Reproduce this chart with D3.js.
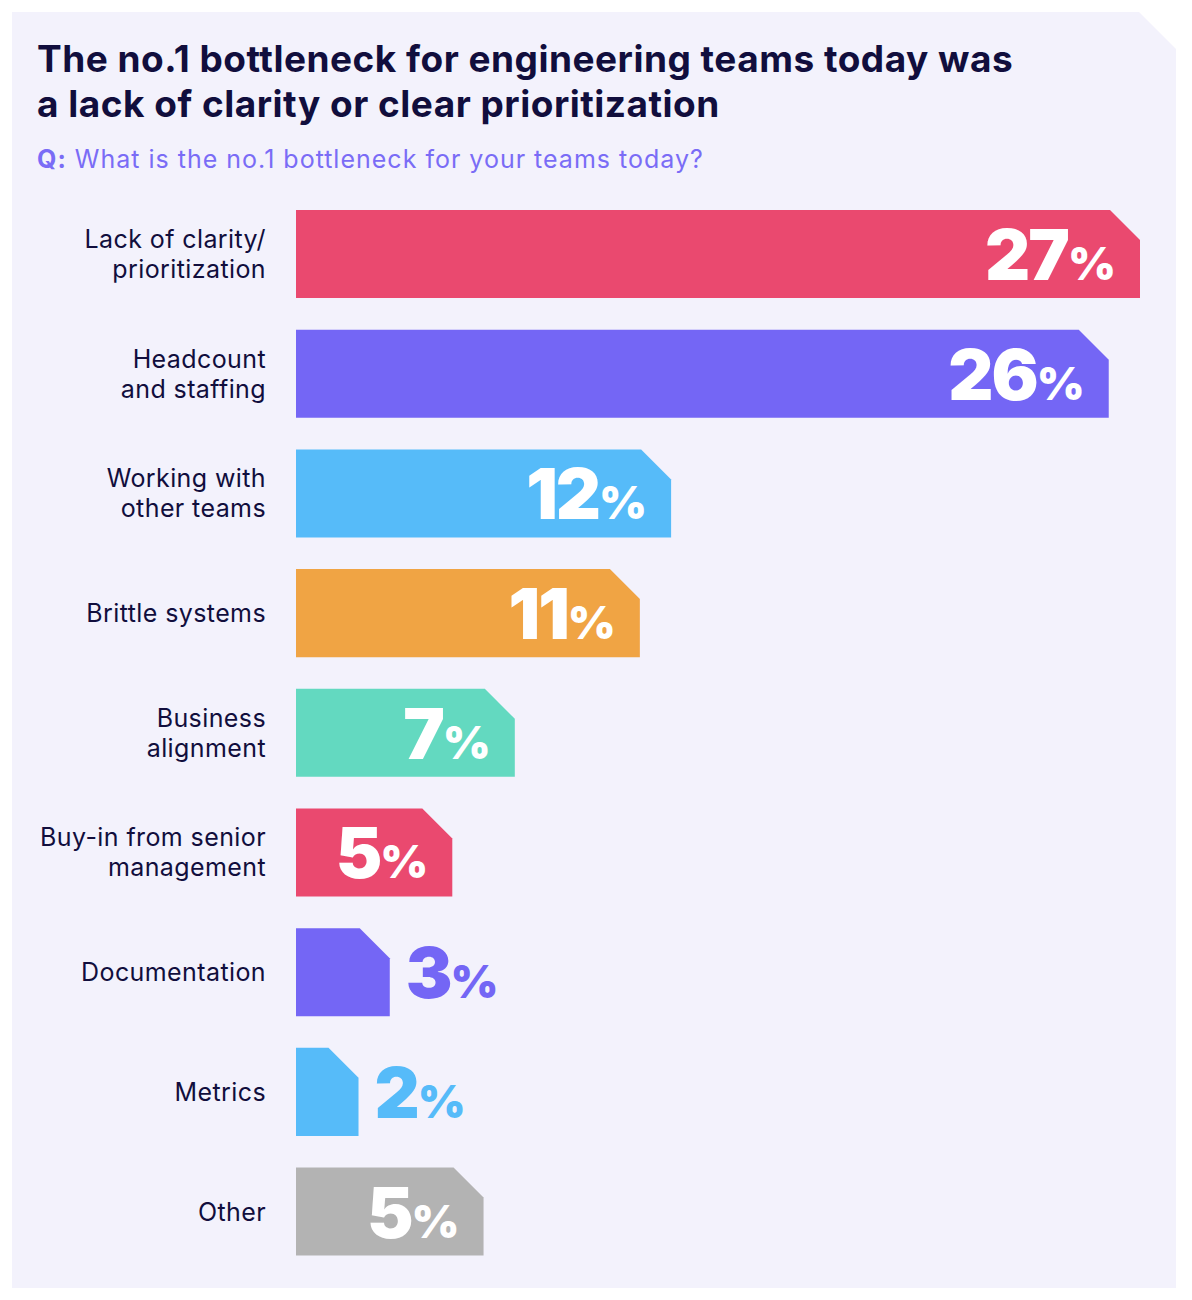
<!DOCTYPE html>
<html>
<head>
<meta charset="utf-8">
<script src="https://cdn.jsdelivr.net/npm/d3@7"></script>
<style>
  body { margin: 0; background: #ffffff; }
  svg { display: block; }
</style>
</head>
<body>
<script>
// chart data
var categories = [
  ["Lack of clarity/", "prioritization"],
  ["Headcount", "and staffing"],
  ["Working with", "other teams"],
  ["Brittle systems"],
  ["Business", "alignment"],
  ["Buy-in from senior", "management"],
  ["Documentation"],
  ["Metrics"],
  ["Other"]
]
// bar lengths as drawn in the picture (the "Other" bar is drawn longer than its 5% label)
var barValues = [27, 26, 12, 11, 7, 5, 3, 2, 6]
var valueLabels = ["27", "26", "12", "11", "7", "5", "3", "2", "5"]
var barColors = ["#ea496f", "#7466f5", "#56bbf9", "#f0a444", "#63d9c0", "#ea496f", "#7466f5", "#56bbf9", "#b3b3b3"]

var width = 1192, height = 1300

var svg = d3.select("body").append("svg")
    .attr("width", width)
    .attr("height", height)

// background panel with clipped top-right corner
svg.append("path")
    .attr("d", "M12,12 L1139,12 L1176,49 L1176,1288 L12,1288 Z")
    .style("fill", "#f3f2fc")

// title
var title = svg.append("text")
    .attr("x", 37)
    .style("font-family", "Inter, 'Noto Sans', sans-serif")
    .style("font-weight", 700)
    .style("font-size", "37px")
    .style("letter-spacing", "0.5px")
    .style("fill", "#110e3d")
title.append("tspan").attr("x", 37).attr("y", 72).text("The no.1 bottleneck for engineering teams today was")
title.append("tspan").attr("x", 37).attr("y", 117).text("a lack of clarity or clear prioritization")

var sub = svg.append("text")
    .attr("x", 37)
    .attr("y", 168)
    .style("font-family", "Inter, 'Noto Sans', sans-serif")
    .style("font-size", "25px")
    .style("letter-spacing", "1px")
    .style("fill", "#7a6cf6")
sub.append("tspan").style("font-weight", 700).text("Q:")
sub.append("tspan").text(" What is the no.1 bottleneck for your teams today?")

// scales
var x = d3.scaleLinear()
    .domain([0, 27])
    .range([296, 1140])

var y = d3.scaleBand()
    .domain(d3.range(categories.length))
    .range([210, 1255.6])
    .paddingInner(0.264)
    .paddingOuter(0)

var cut = 30

var rows = svg.selectAll("g.row")
    .data(barValues)
    .enter().append("g")
    .attr("class", "row")

// bars with a cut top-right corner
rows.append("path")
    .attr("d", function(d, i) {
        var x0 = x(0), x1 = x(d), y0 = y(i), y1 = y(i) + y.bandwidth()
        var c = Math.min(cut, x1 - x0)
        return "M" + x0 + "," + y0 + " L" + (x1 - c) + "," + y0 + " L" + x1 + "," + (y0 + c) +
            " L" + x1 + "," + y1 + " L" + x0 + "," + y1 + " Z"
    })
    .style("fill", function(d, i) { return barColors[i] })

// category labels
rows.append("text")
    .attr("text-anchor", "end")
    .style("font-family", "Inter, 'Noto Sans', sans-serif")
    .style("font-size", "25px")
    .style("letter-spacing", "0.4px")
    .style("fill", "#110e3d")
    .each(function(d, i) {
        var lines = categories[i]
        var mid = y(i) + y.bandwidth() / 2
        var first = mid + 9 - (lines.length - 1) * 15
        d3.select(this).selectAll("tspan")
            .data(lines)
            .enter().append("tspan")
            .attr("x", 266)
            .attr("y", function(l, j) { return first + j * 30 })
            .text(function(l) { return l })
    })

// value labels: inside (white) when the bar is wide, outside in bar colour otherwise
rows.append("text")
    .attr("text-anchor", function(d) { return d >= 5 ? "end" : "start" })
    .attr("x", function(d) { return d >= 5 ? x(d) - 24 : x(d) + 16 })
    .attr("y", function(d, i) { return y(i) + y.bandwidth() / 2 + 26 })
    .style("font-family", "Inter, 'Liberation Sans', sans-serif")
    .style("font-weight", 900)
    .style("letter-spacing", "-2px")
    .style("fill", function(d, i) { return d >= 5 ? "#ffffff" : barColors[i] })
    .each(function(d, i) {
        var t = d3.select(this)
        t.append("tspan").style("font-size", "70px").text(valueLabels[i])
        t.append("tspan").style("font-size", "46px").style("letter-spacing", "0px").text("%")
    })
</script>
</body>
</html>
